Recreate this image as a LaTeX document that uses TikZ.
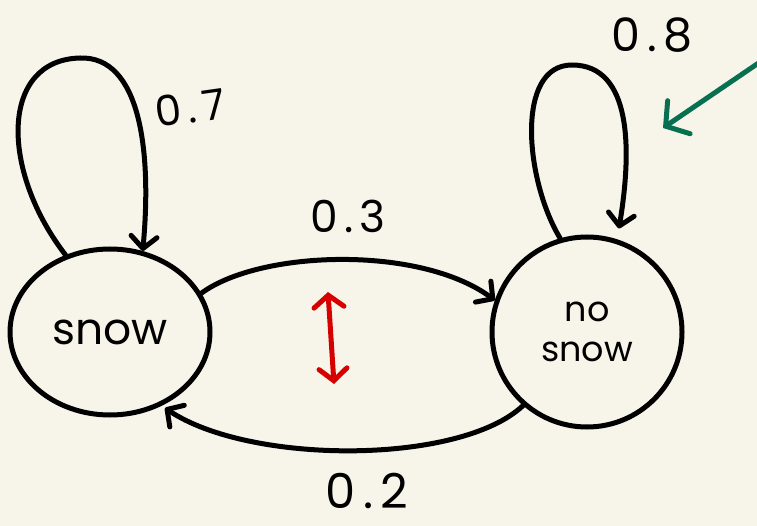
\documentclass[tikz,border=0pt]{standalone}
\usepackage{fontspec}
\setmainfont{Poppins}
\usetikzlibrary{arrows.meta,shapes.geometric}
\definecolor{paper}{RGB}{247,245,233}
\definecolor{ink}{RGB}{0,0,0}
\definecolor{redink}{RGB}{214,0,0}
\definecolor{greenink}{RGB}{8,112,80}
\tikzset{
  pen/.style={line width=5pt, line cap=round, line join=round, draw=ink},
  state/.style={pen, ellipse, inner sep=0pt, align=center},
  barb/.style={-{Straight Barb[length=12pt,width=26pt,line cap=round,line join=round]}},
  prob/.style={font=\fontsize{44}{44}\selectfont\addfontfeatures{LetterSpace=14}},
}
\begin{document}
\begin{tikzpicture}[x=1pt,y=-1pt]
  \fill[paper] (0,0) rectangle (757,526);
  \useasboundingbox (0,0) rectangle (757,526);

  % states
  \node[state, minimum width=200pt, minimum height=166pt,
        font=\fontsize{44}{44}\selectfont] (snow) at (110,332) {snow};
  \node[state, minimum width=190pt, minimum height=190pt,
        font=\fontsize{35}{40}\selectfont] (nosnow) at (587,332) {no\\snow};

  % self loops
  \draw[pen, barb] (snow.120) .. controls (0,170) and (0,60) .. (80,58)
        .. controls (140,56) and (152,150) .. (snow.68);
  \draw[pen, barb, shorten >=11pt] (nosnow.106) .. controls (525,180) and (515,65) .. (572,65)
        .. controls (632,65) and (632,150) .. (nosnow.72);

  % transitions between states
  \draw[pen, barb] (snow.23) .. controls (260,250) and (420,245) .. (nosnow.161);
  \draw[pen, barb, shorten >=4pt] (nosnow.229) .. controls (460,465) and (250,465) .. (snow.-55);

  % probabilities
  \node[font=\fontsize{42}{42}\selectfont\addfontfeatures{LetterSpace=14}, rotate=8] (p77) at (190,108) {0.7};
  \node[prob, font=\fontsize{46}{46}\selectfont\addfontfeatures{LetterSpace=14}] (p88) at (652,35) {0.8};
  \node[prob] (p33) at (348,216) {0.3};
  \node[prob, font=\fontsize{48}{48}\selectfont\addfontfeatures{LetterSpace=16}] (p22) at (367,491) {0.2};

  % red double arrow
  \coordinate (rtop) at (328,292);
  \coordinate (rbot) at (334,384);
  \draw[pen, draw=redink,
        {Straight Barb[length=12pt,width=30pt,line cap=round]}-{Straight Barb[length=12pt,width=28pt,line cap=round]}]
        (rtop) -- (rbot);

  % green pointer
  \coordinate (gstart) at (760,62);
  \coordinate (gend) at (663,128);
  \draw[pen, draw=greenink,
        -{Straight Barb[length=16pt,width=40pt,line cap=round]}] (gstart) -- (gend);
\end{tikzpicture}
\end{document}
